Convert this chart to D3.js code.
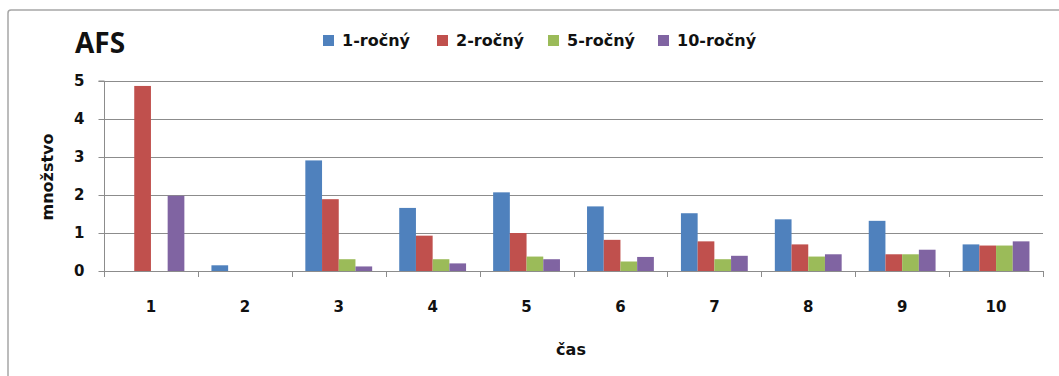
<!DOCTYPE html>
<html>
<head>
<meta charset="utf-8">
<script src="https://cdn.jsdelivr.net/npm/d3@7"></script>
<style>
  html, body { margin: 0; padding: 0; background: #fff; }
  svg { display: block; }
</style>
</head>
<body>
<svg id="chart" width="1059" height="376"></svg>
<script>
// Chart data
const categories = ["1", "2", "3", "4", "5", "6", "7", "8", "9", "10"];
const seriesNames = ["1-ročný", "2-ročný", "5-ročný", "10-ročný"];
const seriesColors = ["#4F81BD", "#C0504D", "#9BBB59", "#8064A2"];
const s1 = [0, 0.15, 2.91, 1.66, 2.07, 1.70, 1.52, 1.36, 1.32, 0.70];
const s2 = [4.87, 0, 1.89, 0.93, 1.00, 0.82, 0.78, 0.70, 0.44, 0.67];
const s5 = [0, 0, 0.31, 0.31, 0.38, 0.25, 0.31, 0.38, 0.44, 0.67];
const s10 = [1.98, 0, 0.12, 0.20, 0.31, 0.37, 0.40, 0.44, 0.56, 0.78];
const yTicks = [0, 1, 2, 3, 4, 5];
const titleText = "AFS";
const xTitle = "čas";
const yTitle = "množstvo";

const seriesValues = [s1, s2, s5, s10];

const svg = d3.select("#chart");
const labelFont = "'DejaVu Sans', Verdana, sans-serif";

// Outer frame
svg.append("rect")
  .attr("x", 8).attr("y", 10)
  .attr("width", 1070).attr("height", 400)
  .attr("rx", 3)
  .attr("fill", "#fff")
  .attr("stroke", "#a6a6a6")
  .attr("stroke-width", 1.5);

const plot = { left: 104, right: 1043, top: 81, bottom: 271 };

const x0 = d3.scaleBand().domain(categories).range([plot.left, plot.right]).padding(0);
const x1 = d3.scaleBand().domain(d3.range(seriesNames.length))
  .range([0, x0.bandwidth()]).paddingInner(0).paddingOuter(0.81);
const y = d3.scaleLinear().domain([0, 5]).range([plot.bottom, plot.top]);

// Horizontal gridlines
svg.append("g")
  .selectAll("line")
  .data(yTicks.filter(d => d > 0))
  .join("line")
  .attr("x1", plot.left).attr("x2", plot.right)
  .attr("y1", d => Math.round(y(d)) + 0.5).attr("y2", d => Math.round(y(d)) + 0.5)
  .attr("stroke", "#8c8c8c").attr("stroke-width", 1);

// Bars
const groups = svg.append("g")
  .selectAll("g")
  .data(categories)
  .join("g")
  .attr("transform", d => `translate(${x0(d)},0)`);

groups.selectAll("rect")
  .data((d, i) => seriesValues.map((vals, k) => ({ k, v: vals[i] })))
  .join("rect")
  .attr("x", d => x1(d.k))
  .attr("width", x1.bandwidth())
  .attr("y", d => y(d.v))
  .attr("height", d => y(0) - y(d.v))
  .attr("fill", d => seriesColors[d.k]);

// Y axis
const yAxis = d3.axisLeft(y).tickValues(yTicks).tickSize(6).tickPadding(14).tickFormat(d3.format("d"));
const gy = svg.append("g")
  .attr("transform", `translate(${plot.left + 0.5},0)`)
  .call(yAxis);
gy.select(".domain").attr("stroke", "#8c8c8c").attr("d", `M-6,${plot.top}H0V${plot.bottom}`);
gy.selectAll(".tick line").attr("stroke", "#8c8c8c");
gy.selectAll(".tick text")
  .attr("font-family", labelFont).attr("font-weight", "bold")
  .attr("font-size", 15).attr("fill", "#111");

// X axis
const xAxis = d3.axisBottom(x0).tickSize(0).tickPadding(30);
const gx = svg.append("g")
  .attr("transform", `translate(0,${plot.bottom + 0.5})`)
  .call(xAxis);
gx.select(".domain").attr("stroke", "#8c8c8c").attr("d", `M${plot.left},0H${plot.right}`);
gx.selectAll(".tick text")
  .attr("font-family", labelFont).attr("font-weight", "bold")
  .attr("font-size", 15).attr("fill", "#111");

// Category boundary ticks
svg.append("g")
  .selectAll("line")
  .data(categories.map(c => x0(c)).concat([plot.right]))
  .join("line")
  .attr("x1", d => Math.round(d) + 0.5).attr("x2", d => Math.round(d) + 0.5)
  .attr("y1", plot.bottom).attr("y2", plot.bottom + 6)
  .attr("stroke", "#8c8c8c");

// Titles
svg.append("text")
  .attr("x", 75).attr("y", 53)
  .attr("font-family", "'Open Sans', sans-serif").attr("font-weight", "bold")
  .attr("font-size", 28).attr("fill", "#111")
  .text(titleText);

svg.append("text")
  .attr("x", 571).attr("y", 355)
  .attr("text-anchor", "middle")
  .attr("font-family", labelFont).attr("font-weight", "bold")
  .attr("font-size", 16).attr("fill", "#111")
  .text(xTitle);

svg.append("text")
  .attr("transform", `translate(53,177) rotate(-90)`)
  .attr("text-anchor", "middle")
  .attr("font-family", labelFont).attr("font-weight", "bold")
  .attr("font-size", 16).attr("fill", "#111")
  .text(yTitle);

// Legend
const legendX = [323, 437, 548, 658];
const legend = svg.append("g")
  .selectAll("g")
  .data(seriesNames)
  .join("g")
  .attr("transform", (d, i) => `translate(${legendX[i]},35)`);
legend.append("rect")
  .attr("width", 11).attr("height", 11)
  .attr("fill", (d, i) => seriesColors[i]);
legend.append("text")
  .attr("x", 19).attr("y", 11)
  .attr("font-family", labelFont).attr("font-weight", "bold")
  .attr("font-size", 16).attr("fill", "#111")
  .text(d => d);
</script>
</body>
</html>
